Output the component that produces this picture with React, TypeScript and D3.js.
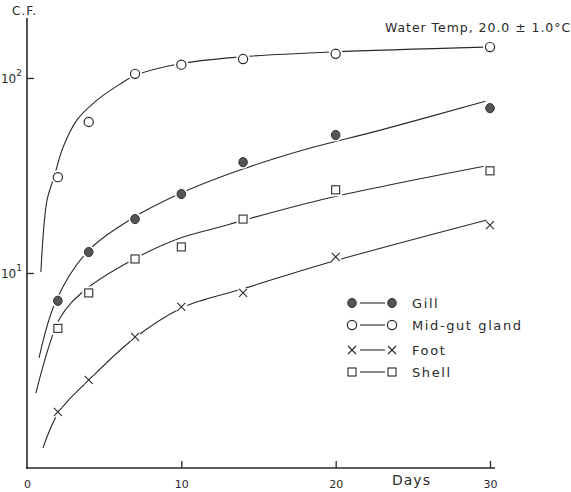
import React, { useEffect, useRef } from 'react';
import * as d3 from 'd3';

const W = 571;
const H = 492;

// Sampling days and concentration factors (C.F.) per tissue
const days = [2, 4, 7, 10, 14, 20, 30];
const midGut = [31, 59.5, 105, 117, 125, 133, 144];
const gill = [7.2, 12.8, 18.9, 25.4, 37, 51, 70];
const shell = [5.2, 7.9, 11.8, 13.6, 18.9, 26.7, 33.4];
const foot = [1.94, 2.83, 4.7, 6.7, 7.9, 12.1, 17.6];

// Hand-fitted trend curves (day, C.F.)
const midGutFitDays = [0.9, 1.3, 1.75, 2.33, 3.24, 4.54, 6.03, 7, 9.8, 13.7, 19.8, 29.6];
const midGutFit = [10.1, 23.7, 31, 44, 61, 77, 93, 103, 118, 128, 136, 144];
const gillFitDays = [0.78, 1.88, 3.89, 6.74, 9.85, 13.8, 17.9, 22.9, 29.7];
const gillFit = [3.67, 7.2, 12.8, 18.9, 25.4, 33.7, 42.7, 54, 76];
const shellFitDays = [0.58, 2.14, 3.76, 6.68, 9.72, 12.5, 13.9, 19.6, 29.7];
const shellFit = [2.42, 5.88, 8.18, 11.5, 14.9, 17.2, 18.5, 24.3, 35.4];
const footFitDays = [1.04, 2.07, 4.08, 6.97, 9.98, 11.5, 14.0, 19.0, 29.8];
const footFit = [1.27, 1.94, 2.86, 4.64, 6.6, 7.3, 8.3, 11.0, 18.7];

const xTicks = [0, 10, 20, 30];
const yTicks = [10, 100];
const yTickExp = ['1', '2'];

const seriesNames = ['Gill', 'Mid-gut gland', 'Foot', 'Shell'];
const seriesKinds = ['filled', 'open', 'cross', 'square'];

const INK = '#2a2a2a';
const FONT = '"DejaVu Sans", sans-serif';

type Kind = 'filled' | 'open' | 'cross' | 'square';

function drawMarker(g: d3.Selection<SVGGElement, unknown, null, undefined>, kind: Kind, cx: number, cy: number) {
  const m = g.append('g').attr('transform', `translate(${cx},${cy})`);
  if (kind === 'filled') {
    m.append('ellipse').attr('rx', 6.5).attr('ry', 6.5).attr('fill', '#fff');
    m.append('ellipse').attr('rx', 4.3).attr('ry', 4.6).attr('fill', '#555').attr('stroke', '#333').attr('stroke-width', 1);
  } else if (kind === 'open') {
    m.append('circle').attr('r', 7).attr('fill', '#fff');
    m.append('circle').attr('r', 4.6).attr('fill', '#fff').attr('stroke', INK).attr('stroke-width', 1.2);
  } else if (kind === 'cross') {
    m.append('circle').attr('r', 6).attr('fill', '#fff');
    m.append('path').attr('d', 'M-4,-4L4,4M-4,4L4,-4').attr('stroke', INK).attr('stroke-width', 1.1).attr('fill', 'none');
  } else {
    m.append('rect').attr('x', -6.5).attr('y', -6.5).attr('width', 13).attr('height', 13).attr('fill', '#fff');
    m.append('rect').attr('x', -4).attr('y', -4).attr('width', 8).attr('height', 8)
      .attr('fill', '#fff').attr('stroke', INK).attr('stroke-width', 1.1);
  }
}

export default function App() {
  const ref = useRef<SVGSVGElement | null>(null);

  useEffect(() => {
    const svg = d3.select(ref.current);
    svg.selectAll('*').remove();

    const x = d3.scaleLinear().domain([0, 30]).range([27, 490]);
    const y = d3.scaleLog().domain([1, 203]).range([468, 18]);

    const root = svg.append('g');

    // x axis
    const xAxis = d3.axisBottom(x)
      .tickValues(xTicks)
      .tickSizeInner(-7)
      .tickSizeOuter(0)
      .tickPadding(9)
      .tickFormat((d) => String(d));
    const gx = root.append('g').attr('transform', `translate(0,${y(1)})`).call(xAxis);
    gx.select('.domain').remove();
    gx.selectAll('.tick line').attr('stroke', INK).attr('stroke-width', 1.3);
    gx.selectAll('.tick').filter((d: any) => d === 0).select('line').remove();
    gx.selectAll('.tick text').attr('font-family', FONT).attr('font-size', 11).attr('fill', INK).attr('dy', '1em');
    root.append('line').attr('x1', 26).attr('x2', 495).attr('y1', y(1)).attr('y2', y(1))
      .attr('stroke', INK).attr('stroke-width', 1.6);

    // y axis
    const yAxis = d3.axisLeft(y)
      .tickValues(yTicks)
      .tickSizeInner(-7)
      .tickSizeOuter(0)
      .tickPadding(12)
      .tickFormat(() => '');
    const gy = root.append('g').attr('transform', `translate(27,0)`).call(yAxis);
    gy.select('.domain').remove();
    gy.selectAll('.tick line').attr('stroke', INK).attr('stroke-width', 1.3);
    gy.selectAll('.tick').each(function (d: any, i) {
      const t = d3.select(this).append('text')
        .attr('x', -5).attr('y', 5).attr('text-anchor', 'end')
        .attr('font-family', FONT).attr('font-size', 12).attr('fill', INK);
      t.append('tspan').text('10');
      t.append('tspan').attr('dy', -7).attr('font-size', 9).text(yTickExp[i]);
    });
    root.append('line').attr('x1', 27).attr('x2', 27).attr('y1', 18).attr('y2', y(1) + 1)
      .attr('stroke', INK).attr('stroke-width', 1.6);

    root.append('text').attr('x', 12).attr('y', 15)
      .attr('font-family', FONT).attr('font-size', 12).attr('fill', INK).attr('letter-spacing', 1)
      .text('C.F.');
    root.append('text').attr('x', 392).attr('y', 485)
      .attr('font-family', FONT).attr('font-size', 14).attr('fill', INK).attr('letter-spacing', 1)
      .text('Days');
    root.append('text').attr('x', 385).attr('y', 32)
      .attr('font-family', FONT).attr('font-size', 12.5).attr('fill', INK).attr('letter-spacing', 0.95)
      .text('Water Temp, 20.0 \u00B1 1.0\u00B0C');

    // fitted curves
    const line = d3.line<[number, number]>()
      .x((d) => x(d[0]))
      .y((d) => y(d[1]))
      .curve(d3.curveCatmullRom.alpha(0.5));
    const fits: [number[], number[]][] = [
      [gillFitDays, gillFit],
      [midGutFitDays, midGutFit],
      [footFitDays, footFit],
      [shellFitDays, shellFit],
    ];
    fits.forEach(([ds, vs]) => {
      root.append('path')
        .attr('d', line(ds.map((d, i) => [d, vs[i]] as [number, number])))
        .attr('fill', 'none').attr('stroke', INK).attr('stroke-width', 1.1);
    });

    // observed points
    const obs = [gill, midGut, foot, shell];
    const gm = root.append('g');
    obs.forEach((vals, s) => {
      vals.forEach((v, i) => drawMarker(gm as any, seriesKinds[s] as Kind, x(days[i]), y(v)));
    });

    // legend
    const lg = root.append('g');
    const rowY = [303, 325, 350, 372];
    seriesNames.forEach((name, i) => {
      const ry = rowY[i];
      lg.append('line').attr('x1', 360).attr('x2', 385).attr('y1', ry).attr('y2', ry)
        .attr('stroke', INK).attr('stroke-width', 1.1);
      drawMarker(lg as any, seriesKinds[i] as Kind, 352, ry);
      drawMarker(lg as any, seriesKinds[i] as Kind, 392, ry);
      lg.append('text').attr('x', 412).attr('y', ry + 5)
        .attr('font-family', FONT).attr('font-size', 13).attr('fill', INK).attr('letter-spacing', 1.6)
        .text(name);
    });
  }, []);

  return (
    <svg
      ref={ref}
      width={W}
      height={H}
      viewBox={`0 0 ${W} ${H}`}
      style={{ position: 'absolute', left: 0, top: 0, background: '#fff', display: 'block' }}
    />
  );
}
